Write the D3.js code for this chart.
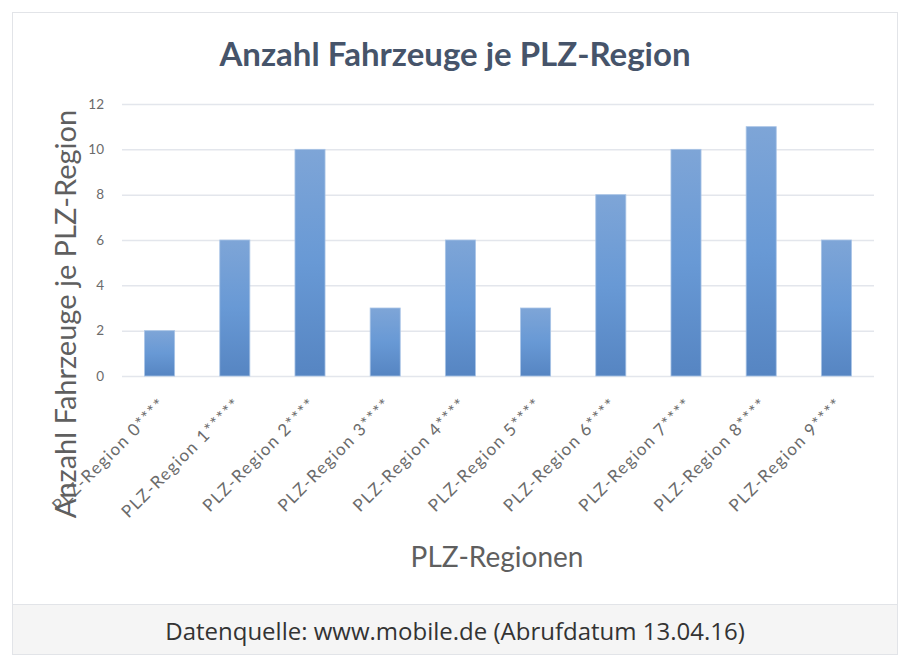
<!DOCTYPE html>
<html>
<head>
<meta charset="utf-8">
<script src="https://cdn.jsdelivr.net/npm/d3@7"></script>
<style>
  body { margin: 0; background: #fff; }
</style>
</head>
<body>
<div id="chart"></div>
<script>
// data
var regions = ["PLZ-Region 0****", "PLZ-Region 1*****", "PLZ-Region 2****", "PLZ-Region 3****",
               "PLZ-Region 4****", "PLZ-Region 5****", "PLZ-Region 6****", "PLZ-Region 7****",
               "PLZ-Region 8****", "PLZ-Region 9****"];
var counts = [2, 6, 10, 3, 6, 3, 8, 10, 11, 6];
var yTicks = [0, 2, 4, 6, 8, 10, 12];

var title = "Anzahl Fahrzeuge je PLZ-Region";
var yTitle = "Anzahl Fahrzeuge je PLZ-Region";
var xTitle = "PLZ-Regionen";
var source = "Datenquelle: www.mobile.de (Abrufdatum 13.04.16)";

var W = 900, H = 664;
var plot = {left: 122, right: 874, top: 104, bottom: 376};

var svg = d3.select("#chart")
  .append("svg")
    .attr("width", W)
    .attr("height", H);

// frame and caption box
svg.append("rect")
    .attr("x", 12.5).attr("y", 12.5)
    .attr("width", 885).attr("height", 642)
    .attr("fill", "#fff")
    .attr("stroke", "#e2e4e8");
svg.append("rect")
    .attr("x", 13).attr("y", 604)
    .attr("width", 884).attr("height", 50)
    .attr("fill", "#f5f5f5");
svg.append("line")
    .attr("x1", 12).attr("x2", 898)
    .attr("y1", 604.5).attr("y2", 604.5)
    .attr("stroke", "#e2e4e8");

svg.append("text")
    .attr("x", 455).attr("y", 640)
    .attr("text-anchor", "middle")
    .style("font-family", "'Open Sans', sans-serif")
    .style("font-size", "24px")
    .attr("fill", "#333")
    .text(source);

// gradient for bars
var grad = svg.append("defs").append("linearGradient")
    .attr("id", "barGrad")
    .attr("x1", 0).attr("y1", 0).attr("x2", 0).attr("y2", 1);
grad.append("stop").attr("offset", "0%").attr("stop-color", "#7ea5d7");
grad.append("stop").attr("offset", "50%").attr("stop-color", "#6899d5");
grad.append("stop").attr("offset", "100%").attr("stop-color", "#5685c2");

var x = d3.scaleBand()
    .domain(regions)
    .range([plot.left, plot.right])
    .paddingInner(0.6)
    .paddingOuter(0.3);

var y = d3.scaleLinear()
    .domain([0, 12])
    .range([plot.bottom, plot.top]);

// gridlines
svg.append("g")
    .attr("transform", "translate(" + plot.left + ",0)")
    .call(d3.axisLeft(y).tickValues(yTicks).tickSize(-(plot.right - plot.left)).tickFormat(""))
    .call(g => g.select(".domain").remove())
    .selectAll("line")
      .attr("stroke", "#e3e6ec")
      .attr("stroke-width", 1.5);

// y tick labels
svg.append("g")
    .attr("transform", "translate(104,0)")
    .call(d3.axisLeft(y).tickValues(yTicks).tickSize(0).tickPadding(0))
    .call(g => g.select(".domain").remove())
    .selectAll("text")
      .style("font-family", "Lato, sans-serif")
      .style("font-size", "13.5px")
      .attr("fill", "#6b6b6b");

// bars
svg.selectAll("rect.bar")
  .data(counts)
  .enter()
  .append("rect")
    .attr("class", "bar")
    .attr("x", function(d, i) { return x(regions[i]); })
    .attr("y", function(d) { return y(d); })
    .attr("width", x.bandwidth())
    .attr("height", function(d) { return y(0) - y(d); })
    .attr("fill", "url(#barGrad)")
    .attr("stroke", "#a9c4e6")
    .attr("stroke-width", 0.8);

// x tick labels
var xAxis = svg.append("g")
    .attr("transform", "translate(0," + (plot.bottom + 22) + ")")
    .call(d3.axisBottom(x).tickSize(0).tickPadding(0));
xAxis.select(".domain").remove();
xAxis.selectAll("text")
    .attr("transform", "translate(3,3)rotate(-45)")
    .attr("dy", "0.35em")
    .style("text-anchor", "end")
    .style("font-family", "Lato, sans-serif")
    .style("font-size", "17px")
    .style("letter-spacing", "1.4px")
    .attr("fill", "#6b6b6b");

// title
svg.append("text")
    .attr("x", 455).attr("y", 66)
    .attr("text-anchor", "middle")
    .style("font-family", "Lato, sans-serif")
    .style("font-weight", "bold")
    .style("font-size", "33px")
    .attr("fill", "#46546a")
    .text(title);

// axis titles
svg.append("text")
    .attr("transform", "translate(76,314)rotate(-90)")
    .attr("text-anchor", "middle")
    .style("font-family", "Lato, sans-serif")
    .style("font-size", "29px")
    .attr("fill", "#5f5f5f")
    .text(yTitle);

svg.append("text")
    .attr("x", 497).attr("y", 567)
    .attr("text-anchor", "middle")
    .style("font-family", "Lato, sans-serif")
    .style("font-size", "28px")
    .attr("fill", "#5f5f5f")
    .text(xTitle);
</script>
</body>
</html>
